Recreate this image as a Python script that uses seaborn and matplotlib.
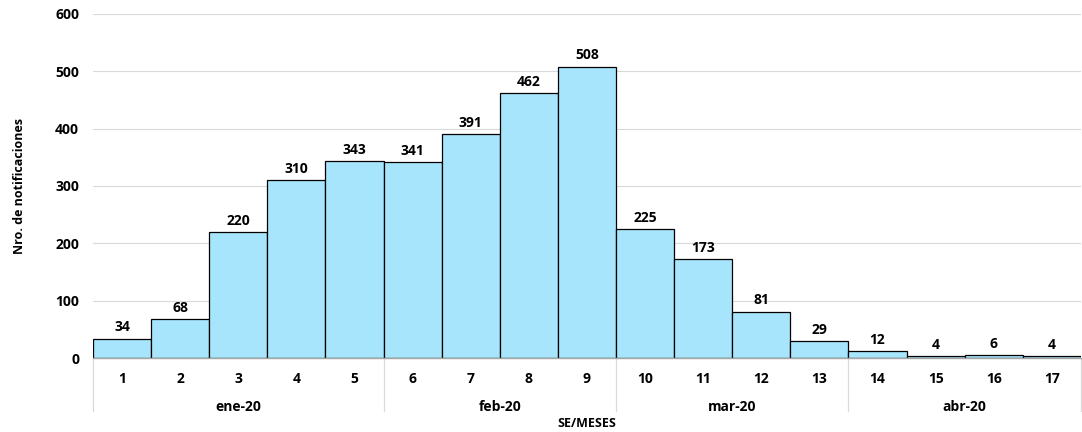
import matplotlib
matplotlib.use("Agg")
import matplotlib.pyplot as plt
import matplotlib.transforms as mtransforms
import seaborn as sns
import pandas as pd

weeks = [str(i) for i in range(1, 18)]
values = [34, 68, 220, 310, 343, 341, 391, 462, 508, 225, 173, 81, 29, 12, 4, 6, 4]
months = ["ene-20", "feb-20", "mar-20", "abr-20"]
month_weeks = [5, 4, 4, 4]

sns.set_theme(style="white")
plt.rcParams['font.family'] = ['Open Sans', 'DejaVu Sans']
plt.rcParams['text.color'] = 'black'
plt.rcParams['xtick.color'] = 'black'
plt.rcParams['ytick.color'] = 'black'
plt.rcParams['axes.labelcolor'] = 'black'

df = pd.DataFrame({"SE": weeks, "n": values})

fig = plt.figure(figsize=(10.82, 4.32), dpi=100)
ax = fig.add_axes([0.086, 0.171, 0.913, 0.797])

sns.barplot(data=df, x="SE", y="n", ax=ax, width=1.0, color="#A6E5FC",
            edgecolor="black", linewidth=0.9, saturation=1)

ax.set_ylim(0, 600)
ax.set_xlim(-0.5, len(weeks) - 0.5)
ax.set_yticks(range(0, 601, 100))
ax.yaxis.grid(True, color="#D9D9D9", linewidth=0.8)
ax.set_axisbelow(True)
for s in ["top", "right", "left"]:
    ax.spines[s].set_visible(False)
ax.spines["bottom"].set_color("#A6A6A6")
ax.spines["bottom"].set_linewidth(1.0)
ax.tick_params(axis="both", length=0, labelsize=10)
ax.tick_params(axis="x", pad=10)
ax.tick_params(axis="y", pad=10)
for lab in ax.get_xticklabels() + ax.get_yticklabels():
    lab.set_fontweight("bold")

for i, v in enumerate(values):
    ax.annotate(str(v), (i, v), xytext=(0, 3), textcoords="offset points",
                ha="center", va="bottom", fontsize=10, fontweight="bold")

trans = mtransforms.blended_transform_factory(ax.transData, ax.transAxes)
start = 0
bounds = [-0.5]
for m, k in zip(months, month_weeks):
    center = start + (k - 1) / 2
    ax.text(center, -0.142, m, transform=trans, ha="center", va="center",
            fontsize=10, fontweight="bold")
    start += k
    bounds.append(start - 0.5)
for b in bounds:
    ax.plot([b, b], [0, -0.154], transform=trans, color="#D9D9D9",
            linewidth=0.9, clip_on=False)

ax.set_xlabel("")
ax.text(0.5, -0.189, "SE/MESES", transform=ax.transAxes, ha="center",
        va="center", fontsize=9, fontweight="bold")
ax.set_ylabel("Nro. de notificaciones", fontsize=9, fontweight="bold", labelpad=21)

fig.savefig("out.png", dpi=100)
